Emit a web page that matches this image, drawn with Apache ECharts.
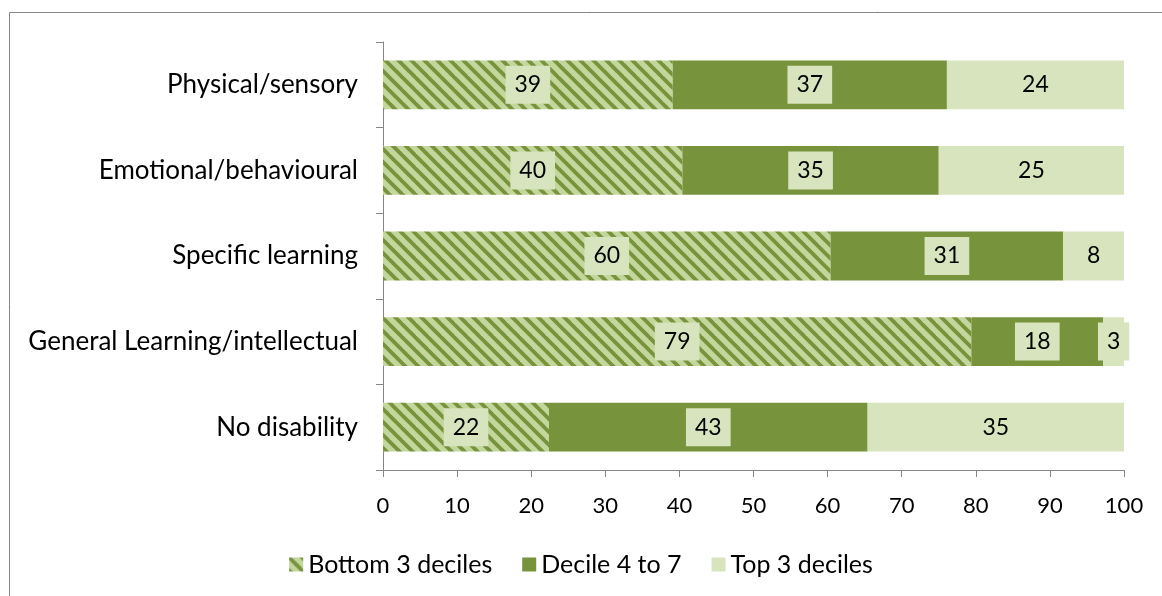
<!DOCTYPE html>
<html>
<head>
<meta charset="utf-8">
<script src="https://cdn.jsdelivr.net/npm/echarts@6/dist/echarts.min.js"></script>
<style>
  html, body { margin: 0; padding: 0; background: #fff; }
  #chart { width: 1162px; height: 596px; }
</style>
</head>
<body>
<div id="chart"></div>
<script>
// categories (top to bottom)
var categories = ['Physical/sensory', 'Emotional/behavioural', 'Specific learning', 'General Learning/intellectual', 'No disability'];
// series values (percent)
var bottom3 = [39.1, 40.4, 60.4, 79.4, 22.4];
var decile4to7 = [37.0, 34.6, 31.4, 17.8, 43.0];
var top3 = [23.9, 25.0, 8.2, 2.8, 34.6];
var seriesNames = ['Bottom 3 deciles', 'Decile 4 to 7', 'Top 3 deciles'];
var xTicks = [0, 10, 20, 30, 40, 50, 60, 70, 80, 90, 100];

var FONT = 'Lato';
var DARK = '#77933c';
var LIGHT = '#d7e4bd';
var HATCH_BG = '#c3d69b';

// hatch pattern for the bottom deciles (wide downward diagonal)
function makeHatch() {
    var size = 13;
    var c = document.createElement('canvas');
    c.width = size; c.height = size;
    var ctx = c.getContext('2d');
    ctx.fillStyle = HATCH_BG;
    ctx.fillRect(0, 0, size, size);
    ctx.strokeStyle = DARK;
    ctx.lineWidth = 3.8;
    for (var k = -1; k <= 1; k++) {
        ctx.beginPath();
        ctx.moveTo(k * size - 2, -2);
        ctx.lineTo(k * size + size + 2, size + 2);
        ctx.stroke();
    }
    return c;
}
var hatch = { image: makeHatch(), repeat: 'repeat' };

function barLabel() {
    return {
        show: true,
        position: 'inside',
        formatter: function (p) { return Math.round(p.value); },
        fontFamily: FONT,
        fontSize: 23,
        color: '#000',
        backgroundColor: LIGHT,
        padding: [8, 9, 7, 9]
    };
}

var chart = echarts.init(document.getElementById('chart'), null, { renderer: 'canvas' });

var option = {
    animation: false,
    backgroundColor: '#fff',
    textStyle: { fontFamily: FONT },
    graphic: [{
        type: 'rect',
        shape: { x: 9.5, y: 12.5, width: 1300, height: 800 },
        style: { fill: 'none', stroke: '#868686', lineWidth: 1 },
        silent: true
    }],
    grid: { left: 383, right: 38, top: 42, bottom: 126, containLabel: false },
    legend: {
        bottom: 14,
        left: 'center',
        itemWidth: 14,
        itemHeight: 14,
        itemGap: 30,
        textStyle: { fontFamily: FONT, fontSize: 25, color: '#000' },
        data: [
            { name: seriesNames[0], icon: 'rect' },
            { name: seriesNames[1], icon: 'rect' },
            { name: seriesNames[2], icon: 'rect' }
        ]
    },
    xAxis: {
        type: 'value',
        min: xTicks[0],
        max: xTicks[xTicks.length - 1],
        interval: 10,
        splitLine: { show: false },
        axisLine: { show: true, lineStyle: { color: '#868686', width: 1 } },
        axisTick: { show: true, length: 7, lineStyle: { color: '#868686' } },
        axisLabel: { fontFamily: FONT, fontSize: 22, color: '#000', margin: 25 }
    },
    yAxis: {
        type: 'category',
        inverse: true,
        data: categories,
        axisLine: { show: true, lineStyle: { color: '#868686', width: 1 } },
        axisTick: { show: true, length: 7, alignWithLabel: false, lineStyle: { color: '#868686' } },
        axisLabel: { fontFamily: FONT, fontSize: 26, color: '#000', margin: 25 }
    },
    series: [
        {
            name: seriesNames[0], type: 'bar', stack: 'total', barWidth: '57%',
            itemStyle: { color: hatch },
            label: barLabel(),
            data: bottom3
        },
        {
            name: seriesNames[1], type: 'bar', stack: 'total',
            itemStyle: { color: DARK },
            label: barLabel(),
            data: decile4to7
        },
        {
            name: seriesNames[2], type: 'bar', stack: 'total',
            itemStyle: { color: LIGHT },
            label: barLabel(),
            data: top3
        }
    ]
};
chart.setOption(option);
</script>
</body>
</html>
